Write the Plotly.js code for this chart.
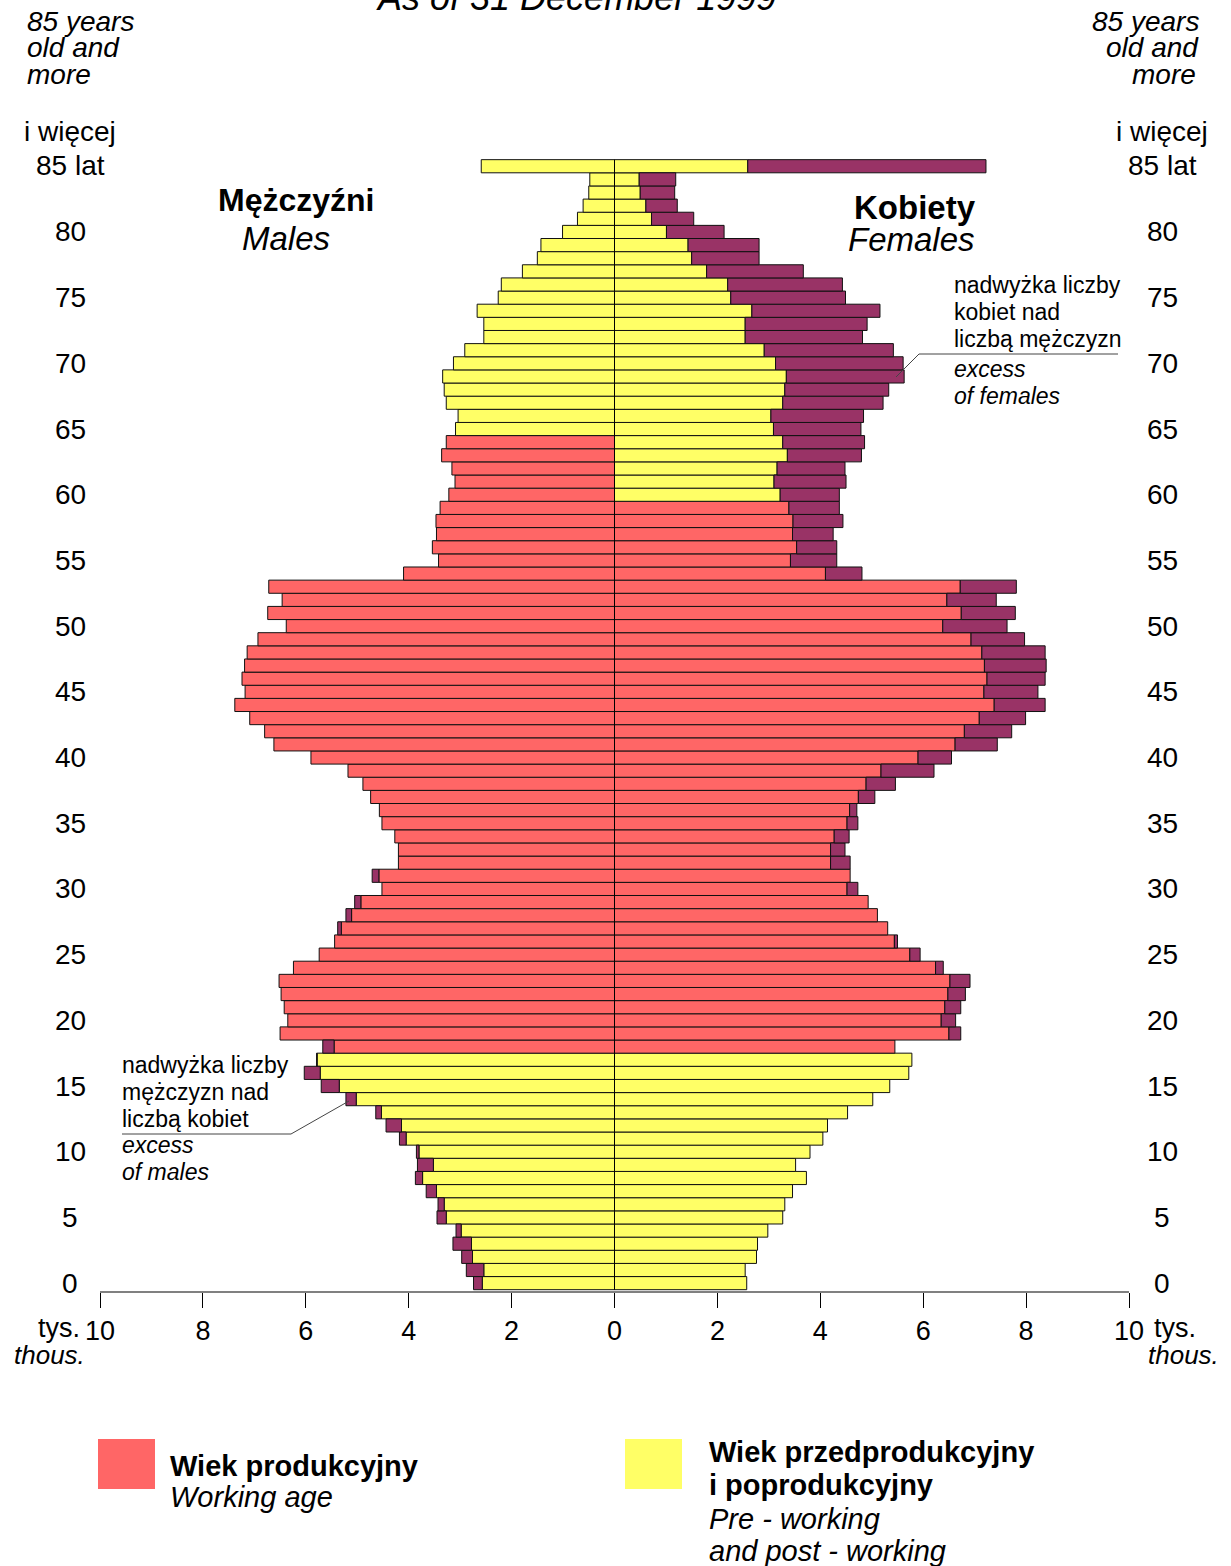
<!DOCTYPE html>
<html><head><meta charset="utf-8">
<script src="https://cdn.plot.ly/plotly-3.0.1.min.js"></script>
<style>html,body{margin:0;padding:0;background:#fff}#chart{width:1231px;height:1566px}</style>
</head><body><div id="chart"></div>
<script>
// Age groups (85 = "85 and more")
const ages = [0,1,2,3,4,5,6,7,8,9,10,11,12,13,14,15,16,17,18,19,20,21,22,23,24,25,26,27,28,29,
  30,31,32,33,34,35,36,37,38,39,40,41,42,43,44,45,46,47,48,49,50,51,52,53,54,55,56,57,58,59,
  60,61,62,63,64,65,66,67,68,69,70,71,72,73,74,75,76,77,78,79,80,81,82,83,84,85];

// Males, thousands
const males = [2.74,2.88,2.97,3.14,3.08,3.45,3.43,3.66,3.87,3.83,
  3.85,4.18,4.44,4.64,5.22,5.70,6.03,5.79,5.67,6.50,
  6.35,6.42,6.48,6.52,6.24,5.74,5.44,5.38,5.22,5.05,
  4.52,4.71,4.20,4.20,4.27,4.52,4.57,4.74,4.89,5.18,
  5.90,6.62,6.80,7.09,7.38,7.18,7.24,7.19,7.14,6.93,
  6.38,6.74,6.46,6.72,4.10,3.42,3.54,3.46,3.47,3.39,
  3.22,3.10,3.16,3.36,3.27,3.09,3.04,3.27,3.31,3.34,
  3.13,2.91,2.54,2.54,2.67,2.26,2.20,1.79,1.50,1.43,
  1.01,0.72,0.61,0.50,0.48,2.59];

// Females, thousands
const females = [2.57,2.54,2.76,2.78,2.98,3.27,3.31,3.46,3.73,3.52,
  3.80,4.05,4.14,4.53,5.02,5.35,5.72,5.78,5.45,6.73,
  6.63,6.73,6.82,6.91,6.39,5.94,5.50,5.31,5.11,4.93,
  4.73,4.58,4.58,4.48,4.56,4.73,4.71,5.06,5.46,6.21,
  6.55,7.44,7.72,7.99,8.37,8.23,8.37,8.39,8.37,7.97,
  7.63,7.79,7.42,7.81,4.81,4.32,4.32,4.25,4.44,4.37,
  4.37,4.50,4.48,4.80,4.86,4.79,4.84,5.22,5.33,5.63,
  5.61,5.42,4.82,4.91,5.16,4.49,4.43,3.67,2.81,2.81,
  2.13,1.54,1.22,1.17,1.19,7.22];

// Working age bounds
const maleWork = [18, 64];
const femaleWork = [18, 59];

const yTickVals = [0,5,10,15,20,25,30,35,40,45,50,55,60,65,70,75,80];
const yTickText = ['0','5','10','15','20','25','30','35','40','45','50','55','60','65','70','75','80'];
const xTickVals = [-10,-8,-6,-4,-2,0,2,4,6,8,10];
const xTickText = ['10','8','6','4','2','0','2','4','6','8','10'];

const RED = '#FF6666', YEL = '#FFFF66', PUR = '#993366';
const FONT = 'Liberation Sans, Arial, Helvetica, sans-serif';
const line = {color:'#111', width:1};

const common = males.map((m,i)=>Math.min(m, females[i]));
const maleColors = ages.map(a => (a>=maleWork[0] && a<=maleWork[1]) ? RED : YEL);
const femColors = ages.map(a => (a>=femaleWork[0] && a<=femaleWork[1]) ? RED : YEL);

const traces = [
  {type:'bar', orientation:'h', y:ages, x:common.map(v=>-v), marker:{color:maleColors, line}, hoverinfo:'skip'},
  {type:'bar', orientation:'h', y:ages, base:common.map(v=>-v),
   x:males.map((m,i)=> m>females[i] ? -(m-common[i]) : null), marker:{color:PUR, line}, hoverinfo:'skip'},
  {type:'bar', orientation:'h', y:ages, x:common, marker:{color:femColors, line}, hoverinfo:'skip'},
  {type:'bar', orientation:'h', y:ages, base:common,
   x:females.map((f,i)=> f>males[i] ? (f-common[i]) : null), marker:{color:PUR, line}, hoverinfo:'skip'}
];

const L=100, W=1029, B=1291, H=1132;
const px = x => (x-L)/W, py = y => (B-y)/H;
function A(text, x, y, size, xanchor, extra){
  return Object.assign({xref:'paper', yref:'paper', x:px(x), y:py(y), text, showarrow:false,
    xanchor:xanchor||'center', yanchor:'middle', font:{family:FONT, size:size, color:'#000'}}, extra||{});
}

const ann = [];
// y tick labels both sides
yTickVals.forEach((v,i)=>{
  ann.push({xref:'paper', yref:'y', x:px(70), y:v, text:yTickText[i], showarrow:false, xanchor:'center', yanchor:'middle', font:{family:FONT,size:28,color:'#000'}});
  ann.push({xref:'paper', yref:'y', x:px(1162), y:v, text:yTickText[i], showarrow:false, xanchor:'center', yanchor:'middle', font:{family:FONT,size:28,color:'#000'}});
});
// title (cut at top)
ann.push(A('<i>As of 31 December 1999</i>', 576, -3, 36));
// top-left
ann.push(A('<i>85 years</i>', 25, 21, 28, 'left'));
ann.push(A('<i>old and</i>', 25, 48, 28, 'left'));
ann.push(A('<i>more</i>', 25, 75, 28, 'left'));
ann.push(A('i więcej', 70, 131, 28));
ann.push(A('85 lat', 70, 165, 28));
// top-right
ann.push(A('<i>85 years</i>', 1201, 21, 28, 'right'));
ann.push(A('<i>old and</i>', 1201, 48, 28, 'right'));
ann.push(A('<i>more</i>', 1198, 75, 28, 'right'));
ann.push(A('i więcej', 1162, 131, 28));
ann.push(A('85 lat', 1162, 165, 28));
// sex labels
ann.push(A('<b>Mężczyźni</b>', 296, 200, 32));
ann.push(A('<i>Males</i>', 286, 239, 33));
ann.push(A('<b>Kobiety</b>', 915, 208, 33));
ann.push(A('<i>Females</i>', 911, 240, 33));
// excess of females note
ann.push(A('nadwyżka liczby', 952, 285, 23, 'left'));
ann.push(A('kobiet nad', 952, 312, 23, 'left'));
ann.push(A('liczbą mężczyzn', 952, 339, 23, 'left'));
ann.push(A('<i>excess</i>', 952, 369, 23, 'left'));
ann.push(A('<i>of females</i>', 952, 396, 23, 'left'));
// excess of males note
ann.push(A('nadwyżka liczby', 120, 1065, 23, 'left'));
ann.push(A('mężczyzn nad', 120, 1092, 23, 'left'));
ann.push(A('liczbą kobiet', 120, 1119, 23, 'left'));
ann.push(A('<i>excess</i>', 120, 1145, 23, 'left'));
ann.push(A('<i>of males</i>', 120, 1172, 23, 'left'));
// axis units
ann.push(A('tys.', 82, 1328, 27, 'right'));
ann.push(A('<i>thous.</i>', 12, 1355, 26, 'left'));
ann.push(A('tys.', 1152, 1328, 27, 'left'));
ann.push(A('<i>thous.</i>', 1221, 1355, 26, 'right'));
// legend
ann.push(A('<b>Wiek produkcyjny</b>', 168, 1466, 29, 'left'));
ann.push(A('<i>Working age</i>', 168, 1497, 29, 'left'));
ann.push(A('<b>Wiek przedprodukcyjny</b>', 707, 1452, 29, 'left'));
ann.push(A('<b>i poprodukcyjny</b>', 707, 1485, 29, 'left'));
ann.push(A('<i>Pre - working</i>', 707, 1519, 29, 'left'));
ann.push(A('<i>and post - working</i>', 707, 1551, 29, 'left'));

function Lp(x0,y0,x1,y1,c,w){return {type:'line', xref:'paper', yref:'paper', x0:px(x0), y0:py(y0), x1:px(x1), y1:py(y1), line:{color:c||'#444', width:w||1}};}
const shapes = [
  {type:'line', xref:'x', yref:'y', x0:0, x1:0, y0:-0.5, y1:85.5, line:{color:'#000', width:1}, layer:'above'},
  Lp(919,354,1118,354), Lp(919,354,896,377),
  Lp(122,1134,291,1134), Lp(291,1134,349,1101),
  {type:'rect', xref:'paper', yref:'paper', x0:px(98), x1:px(155), y0:py(1489), y1:py(1439), fillcolor:RED, line:{width:0}},
  {type:'rect', xref:'paper', yref:'paper', x0:px(625), x1:px(682), y0:py(1489), y1:py(1439), fillcolor:YEL, line:{width:0}}
];

const layout = {
  width:1231, height:1566, margin:{l:100, r:102, t:159, b:275},
  paper_bgcolor:'#fff', plot_bgcolor:'#fff',
  barmode:'overlay', bargap:0, showlegend:false,
  font:{family:FONT, color:'#000'},
  xaxis:{range:[-10,10], tickvals:xTickVals, ticktext:xTickText, ticks:'outside', ticklen:15, tickcolor:'#000', tickwidth:1,
    showline:true, linecolor:'#808080', linewidth:2, showgrid:false, zeroline:false, tickfont:{size:27, family:FONT, color:'#000'}, fixedrange:true},
  yaxis:{range:[-0.6,85.55], showticklabels:false, showgrid:false, zeroline:false, showline:false, ticks:'', fixedrange:true},
  annotations:ann, shapes:shapes
};
Plotly.newPlot('chart', traces, layout, {displayModeBar:false, staticPlot:true});
</script></body></html>
